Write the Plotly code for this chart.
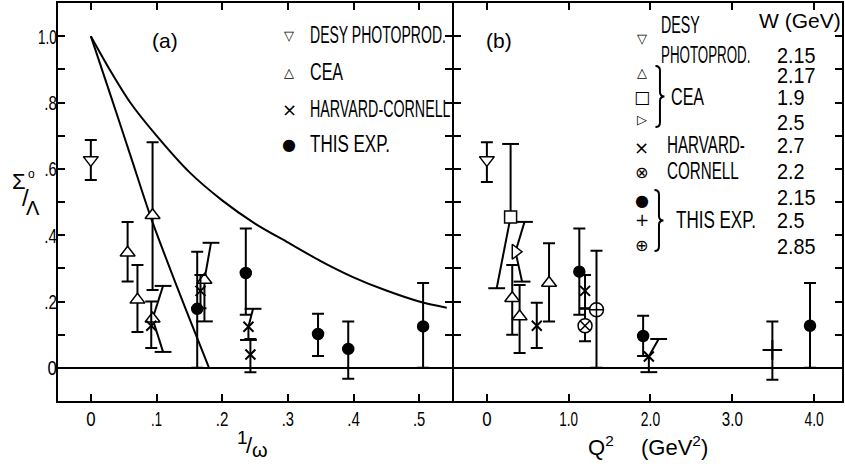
import json
import plotly.graph_objects as go

# ---------------- panel (a): x = 1/omega ----------------
DESY_A_X = [0.0]
DESY_A_Y = [0.627]
DESY_A_HI = [0.687]
DESY_A_LO = [0.566]

CEA_A_X = [0.056, 0.071, 0.094, 0.094, 0.173]
CEA_A_Y = [0.347, 0.205, 0.46, 0.148, 0.265]
CEA_A_HI = [0.44, 0.31, 0.68, None, None]
CEA_A_LO = [0.26, 0.108, 0.235, None, None]

HC_A_X = [0.092, 0.167, 0.240, 0.243]
HC_A_Y = [0.127, 0.232, 0.124, 0.040]
HC_A_HI = [0.20, 0.28, None, 0.087]
HC_A_LO = [0.06, 0.18, None, -0.013]

THIS_A_X = [0.162, 0.236, 0.346, 0.392, 0.506]
THIS_A_Y = [0.178, 0.286, 0.102, 0.057, 0.125]
THIS_A_HI = [0.35, 0.42, 0.163, 0.14, 0.256]
THIS_A_LO = [0.0, 0.16, 0.036, -0.033, 0.0]

# error bars drawn as segments (displaced / slanted): from point to bar end
SEG_A_X0 = [0.094, 0.094, 0.173, 0.173, 0.240, 0.240]
SEG_A_Y0 = [0.148, 0.148, 0.265, 0.265, 0.124, 0.124]
SEG_A_X1 = [0.110, 0.110, 0.183, 0.173, 0.247, 0.240]
SEG_A_Y1 = [0.247, 0.048, 0.377, 0.140, 0.178, 0.084]

# theory curves
CURVE1_X = [0.0, 0.032, 0.062, 0.092, 0.135, 0.180]
CURVE1_Y = [1.0, 0.81, 0.63, 0.45, 0.225, 0.0]
CURVE2_X = [0.0, 0.03, 0.06, 0.10, 0.15, 0.20, 0.25, 0.30, 0.35, 0.40, 0.45, 0.50, 0.542]
CURVE2_Y = [1.0, 0.895, 0.80, 0.70, 0.59, 0.505, 0.435, 0.378, 0.322, 0.273, 0.233, 0.20, 0.181]

# ---------------- panel (b): x = Q^2 ----------------
DESY_B_X = [0.0]
DESY_B_Y = [0.627]
DESY_B_HI = [0.68]
DESY_B_LO = [0.56]

CEA_TRI_B_X = [0.31, 0.40, 0.76]
CEA_TRI_B_Y = [0.21, 0.155, 0.256]
CEA_TRI_B_HI = [0.31, 0.25, 0.376]
CEA_TRI_B_LO = [0.10, 0.045, 0.14]

CEA_SQ_B_X = [0.29]
CEA_SQ_B_Y = [0.455]
CEA_RT_B_X = [0.35]
CEA_RT_B_Y = [0.35]

HC_X_B_X = [0.61, 1.20, 1.98]
HC_X_B_Y = [0.127, 0.232, 0.034]
HC_X_B_HI = [0.196, 0.28, None]
HC_X_B_LO = [0.06, 0.18, None]

HC_OX_B_X = [1.20]
HC_OX_B_Y = [0.127]
HC_OX_B_HI = [0.178]
HC_OX_B_LO = [0.08]

THIS_DOT_B_X = [1.13, 1.91, 3.95]
THIS_DOT_B_Y = [0.29, 0.096, 0.127]
THIS_DOT_B_HI = [0.42, 0.157, 0.256]
THIS_DOT_B_LO = [0.16, 0.036, 0.0]

THIS_PLUS_B_X = [3.49]
THIS_PLUS_B_Y = [0.054]
THIS_PLUS_B_HI = [0.14]
THIS_PLUS_B_LO = [-0.036]

THIS_OPLUS_B_X = [1.34]
THIS_OPLUS_B_Y = [0.175]
THIS_OPLUS_B_HI = [0.353]
THIS_OPLUS_B_LO = [0.0]

SEG_B_X0 = [0.29, 0.29, 0.35, 0.35, 1.98, 1.98]
SEG_B_Y0 = [0.455, 0.455, 0.35, 0.35, 0.034, 0.034]
SEG_B_X1 = [0.29, 0.12, 0.46, 0.43, 2.10, 1.98]
SEG_B_Y1 = [0.675, 0.24, 0.44, 0.26, 0.087, -0.013]

# ---------------- ticks / labels ----------------
Y_TICKS = [0.0, 0.1, 0.2, 0.3, 0.4, 0.5, 0.6, 0.7, 0.8, 0.9, 1.0]
Y_LABELS = ["0", "", ".2", "", ".4", "", ".6", "", ".8", "", "1.0"]
XA_TICKS = [0.0, 0.1, 0.2, 0.3, 0.4, 0.5]
XA_LABELS = ["0", ".1", ".2", ".3", ".4", ".5"]
XB_TICKS = [0.0, 1.0, 2.0, 3.0, 4.0]
XB_LABELS = ["0", "1.0", "2.0", "3.0", "4.0"]

LEG_A_SYMS = ["▽", "△", "×", "●"]
LEG_A_TEXT = ["DESY PHOTOPROD.", "CEA", "HARVARD-CORNELL", "THIS EXP."]
LEG_B_SYMS = ["▽", "△", "□", "▷", "×", "⊗", "●", "+", "⊕"]
W_LABELS = ["2.15", "2.17", "1.9", "2.5", "2.7", "2.2", "2.15", "2.5", "2.85"]

# ---------------- style ----------------
REG = "Liberation Sans, Arial, sans-serif"
SYM = "DejaVu Sans, sans-serif"
# horizontal condensing of the lettering (text -> width factor)
CONDENSE = {
    "DESY PHOTOPROD.": 0.61, "CEA": 0.70, "HARVARD-CORNELL": 0.62, "THIS EXP.": 0.74,
    "DESY": 0.62, "PHOTOPROD.": 0.58, "HARVARD-": 0.66, "CORNELL": 0.66,
    "2.15": 0.9, "2.17": 0.9, "1.9": 0.9, "2.5": 0.9, "2.7": 0.9, "2.2": 0.9, "2.85": 0.9,
    "0": 0.8, "1.0": 0.64, ".2": 0.72, ".4": 0.72, ".6": 0.7, ".8": 0.72,
    ".1": 0.62, ".3": 0.7, ".5": 0.7, "2.0": 0.66, "3.0": 0.72, "4.0": 0.66,
}

W, H = 845, 466
ML, MR, MT, MB = 58, 1, 3, 65
PW = W - ML - MR
PH = H - MT - MB
END_A = (453 - ML) / PW     # left panel plot area ends (its mirror line then sits on 453-455)
START_B = (455 - ML) / PW   # right panel plot area starts (its axis line sits on 453-455)


def PX(x):
    return (x - ML) / PW


def PY(y):
    return (H - MB - y) / PH


fig = go.Figure()

BLK = "black"
EB = dict(type="data", symmetric=False, color=BLK, thickness=2, width=6)


def add_series(xs, ys, his, los, sym, size, filled, xa, ya, lw=1.5):
    good = [i for i in range(len(xs)) if his[i] is not None and los[i] is not None]
    bad = [i for i in range(len(xs)) if i not in good]
    marker = dict(symbol=sym, size=size,
                  color=BLK if filled else "white",
                  line=dict(color=BLK, width=lw))
    if good:
        fig.add_trace(go.Scatter(
            x=[xs[i] for i in good], y=[ys[i] for i in good], mode="markers",
            marker=marker, xaxis=xa, yaxis=ya, showlegend=False, hoverinfo="skip",
            error_y=dict(EB,
                         array=[his[i] - ys[i] for i in good],
                         arrayminus=[ys[i] - los[i] for i in good])))
    if bad:
        fig.add_trace(go.Scatter(
            x=[xs[i] for i in bad], y=[ys[i] for i in bad], mode="markers",
            marker=marker, xaxis=xa, yaxis=ya, showlegend=False, hoverinfo="skip"))


def add_segments(x0, y0, x1, y1, xa, ya):
    lx, ly = [], []
    for a, b, c, d in zip(x0, y0, x1, y1):
        lx += [a, c, None]
        ly += [b, d, None]
    fig.add_trace(go.Scatter(x=lx, y=ly, mode="lines", line=dict(color=BLK, width=2),
                             xaxis=xa, yaxis=ya, showlegend=False, hoverinfo="skip"))
    fig.add_trace(go.Scatter(x=x1, y=y1, mode="markers",
                             marker=dict(symbol="line-ew", size=12,
                                         line=dict(color=BLK, width=2)),
                             xaxis=xa, yaxis=ya, showlegend=False, hoverinfo="skip"))


# curves
for cx, cy in [(CURVE1_X, CURVE1_Y), (CURVE2_X, CURVE2_Y)]:
    fig.add_trace(go.Scatter(x=cx, y=cy, mode="lines",
                             line=dict(color=BLK, width=2, shape="spline", smoothing=0.8),
                             xaxis="x", yaxis="y", showlegend=False, hoverinfo="skip"))

add_segments(SEG_A_X0, SEG_A_Y0, SEG_A_X1, SEG_A_Y1, "x", "y")
add_segments(SEG_B_X0, SEG_B_Y0, SEG_B_X1, SEG_B_Y1, "x2", "y2")

# panel (a)
add_series(DESY_A_X, DESY_A_Y, DESY_A_HI, DESY_A_LO, "triangle-down", 13, False, "x", "y")
add_series(CEA_A_X, CEA_A_Y, CEA_A_HI, CEA_A_LO, "triangle-up", 13, False, "x", "y")
add_series(HC_A_X, HC_A_Y, HC_A_HI, HC_A_LO, "x-thin", 10, True, "x", "y", lw=2)
add_series(THIS_A_X, THIS_A_Y, THIS_A_HI, THIS_A_LO, "circle", 11, True, "x", "y")

# panel (b)
add_series(DESY_B_X, DESY_B_Y, DESY_B_HI, DESY_B_LO, "triangle-down", 13, False, "x2", "y2")
add_series(CEA_TRI_B_X, CEA_TRI_B_Y, CEA_TRI_B_HI, CEA_TRI_B_LO, "triangle-up", 13, False, "x2", "y2")
add_series(CEA_SQ_B_X, CEA_SQ_B_Y, [None], [None], "square", 12, False, "x2", "y2")
add_series(CEA_RT_B_X, CEA_RT_B_Y, [None], [None], "triangle-right", 13, False, "x2", "y2")
add_series(HC_X_B_X, HC_X_B_Y, HC_X_B_HI, HC_X_B_LO, "x-thin", 10, True, "x2", "y2", lw=2)
add_series(HC_OX_B_X, HC_OX_B_Y, HC_OX_B_HI, HC_OX_B_LO, "circle-x", 14, False, "x2", "y2")
add_series(THIS_DOT_B_X, THIS_DOT_B_Y, THIS_DOT_B_HI, THIS_DOT_B_LO, "circle", 11, True, "x2", "y2")
add_series(THIS_PLUS_B_X, THIS_PLUS_B_Y, THIS_PLUS_B_HI, THIS_PLUS_B_LO, "cross-thin", 14, True, "x2", "y2", lw=2)
add_series(THIS_OPLUS_B_X, THIS_OPLUS_B_Y, THIS_OPLUS_B_HI, THIS_OPLUS_B_LO, "circle-cross", 14, False, "x2", "y2")

axis_common = dict(showline=True, linecolor=BLK, linewidth=2, mirror="ticks",
                   ticks="inside", ticklen=7, tickwidth=2, tickcolor=BLK,
                   showgrid=False, zeroline=False,
                   tickfont=dict(family=REG, size=21, color=BLK))

fig.update_layout(
    width=W, height=H, margin=dict(l=ML, r=MR, t=MT, b=MB),
    paper_bgcolor="white", plot_bgcolor="white", showlegend=False,
    xaxis=dict(axis_common, domain=[0, END_A], range=[-0.05, 0.55],
               tickvals=XA_TICKS, ticktext=XA_LABELS, anchor="y", ticklabelstandoff=-2),
    yaxis=dict(axis_common, domain=[0, 1], range=[-0.1, 1.1],
               tickvals=Y_TICKS, ticktext=Y_LABELS, anchor="x", ticklabelstandoff=-5,
               zeroline=True, zerolinecolor=BLK, zerolinewidth=2),
    xaxis2=dict(axis_common, domain=[START_B, 1], range=[-0.402, 4.341],
                tickvals=XB_TICKS, ticktext=XB_LABELS, anchor="y2", ticklabelstandoff=-2),
    yaxis2=dict(axis_common, domain=[0, 1], range=[-0.1, 1.1],
                tickvals=Y_TICKS, showticklabels=False, anchor="x2",
                zeroline=True, zerolinecolor=BLK, zerolinewidth=2),
)

ann = []


def text(t, x, y, size, family=REG, xanchor="left"):
    ann.append(dict(text=t, x=PX(x), y=PY(y), xref="paper", yref="paper",
                    xanchor=xanchor, yanchor="middle", showarrow=False,
                    align="left" if xanchor == "left" else "center",
                    font=dict(family=family, size=size, color=BLK)))


# panel labels
text("(a)", 165, 41, 21, REG, "center")
text("(b)", 500, 41, 21, REG, "center")

# legend (a)
SYM_SIZES = {"▽": 13, "△": 13, "×": 18, "●": 16, "□": 17, "▷": 13, "⊗": 16, "+": 17, "⊕": 16}
for s, t, yy in zip(LEG_A_SYMS, LEG_A_TEXT, [35, 72, 109, 144]):
    text(s, 290, yy, SYM_SIZES[s], SYM, "center")
    text(t, 309, yy, 23)

# legend (b)
for s, yy in zip(LEG_B_SYMS, [38, 72, 97, 119, 147, 172, 200, 220, 245]):
    text(s, 643, yy, SYM_SIZES[s], SYM, "center")
text("DESY", 661, 25, 23)
text("PHOTOPROD.", 661, 55, 23)
text("CEA", 671, 97, 23)
text("HARVARD-", 667, 145, 23)
text("CORNELL", 667, 171, 23)
text("THIS EXP.", 676, 220, 23)
text("W (GeV)", 759, 21, 21, REG)
for t, yy in zip(W_LABELS, [55, 75, 98, 122, 145, 171, 198, 220, 246]):
    text(t, 777, yy, 22, REG)

# axis titles
text("1", 243, 437, 19, REG, "center")
text("/", 250, 445, 22, REG, "center")
text("ω", 261, 450, 20, REG, "center")
text("Q<sup>2</sup>", 587, 446, 22, REG)
text("(GeV<sup>2</sup>)", 640, 446, 22, REG)
text("Σ", 19, 181, 22, REG, "center")
text("o", 31, 174, 12, REG, "center")
text("/", 25, 198, 24, REG, "center")
text("Λ", 33, 208, 20, REG, "center")

fig.update_layout(annotations=ann)


def brace(x0, y0, y1, w):
    ym = (y0 + y1) / 2
    xm = x0 + w / 2
    pts = [("M", [(x0, y0)]),
           ("Q", [(xm, y0), (xm, y0 + w / 2)]),
           ("L", [(xm, ym - w / 2)]),
           ("Q", [(xm, ym), (x0 + w, ym)]),
           ("Q", [(xm, ym), (xm, ym + w / 2)]),
           ("L", [(xm, y1 - w / 2)]),
           ("Q", [(xm, y1), (x0, y1)])]
    p = ""
    for cmd, pp in pts:
        p += cmd + " ".join(f"{PX(a):.5f},{PY(b):.5f}" for a, b in pp) + " "
    return dict(type="path", path=p.strip(), xref="paper", yref="paper",
                line=dict(color=BLK, width=2))


fig.update_layout(shapes=[brace(657, 66, 127, 9), brace(656, 190, 251, 9)])

POST = """
var F = %s;
document.querySelectorAll('svg text').forEach(function(el){
  var t = el.textContent;
  if (Object.prototype.hasOwnProperty.call(F, t)) {
    var L = el.getComputedTextLength();
    if (L > 0) {
      var f = F[t];
      el.setAttribute('textLength', (L * f).toFixed(2));
      el.setAttribute('lengthAdjust', 'spacingAndGlyphs');
      var g = el.closest ? el.closest('.annotation') : null;
      if (g) {
        var r = g.querySelector('rect.bg');
        if (r) {
          var w = parseFloat(r.getAttribute('width')) || 0;
          r.setAttribute('width', Math.max(0, w - L * (1 - f)).toFixed(2));
        }
      }
    }
  }
});
""" % json.dumps(CONDENSE)

fig.write_html("out.html", post_script=POST)
